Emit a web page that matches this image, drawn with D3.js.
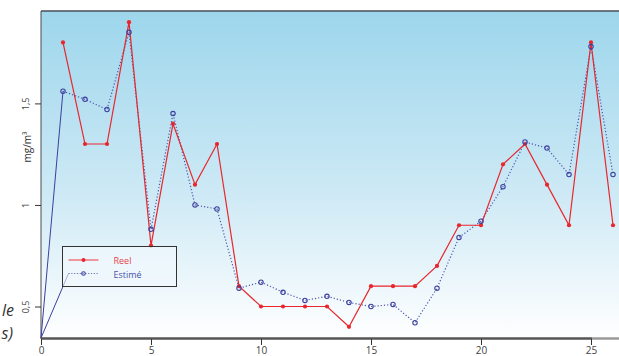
<!DOCTYPE html>
<html>
<head>
<meta charset="utf-8">
<script src="https://cdn.jsdelivr.net/npm/d3@7"></script>
<style>
  html, body { margin: 0; padding: 0; background: #ffffff; }
  svg { display: block; }
</style>
</head>
<body>
<svg id="chart" width="619" height="356"></svg>
<script>
// Measured concentrations per sample (mg/m³)
const samples = d3.range(1, 27);
const reel = [1.80, 1.30, 1.30, 1.90, 0.80, 1.40, 1.10, 1.30, 0.60, 0.50,
              0.50, 0.50, 0.50, 0.40, 0.60, 0.60, 0.60, 0.70, 0.90, 0.90,
              1.20, 1.30, 1.10, 0.90, 1.80, 0.90];
const estime = [1.56, 1.52, 1.47, 1.85, 0.88, 1.45, 1.00, 0.98, 0.59, 0.62,
                0.57, 0.53, 0.55, 0.52, 0.50, 0.51, 0.42, 0.59, 0.84, 0.92,
                1.09, 1.31, 1.28, 1.15, 1.78, 1.15];
const xTicks = [0, 5, 10, 15, 20, 25];
const yTicks = [0.5, 1, 1.5];
const yTickLabels = ["0,5", "1", "1,5"];
const seriesNames = ["Reel", "Estimé"];

const svg = d3.select("#chart");
const W = 619, H = 356;
const plotLeft = 41, plotTop = 11, plotBottom = 339;

const x = d3.scaleLinear().domain([0, 25]).range([41, 591]);
const y = d3.scaleLinear().domain([0.5, 1.5]).range([306.5, 103.4]);

const red = "#e8262c";
const blue = "#3b3f9e";

// Background gradient of the plotting area
const defs = svg.append("defs");
const grad = defs.append("linearGradient").attr("id", "bg")
  .attr("x1", 0).attr("y1", 0).attr("x2", 0).attr("y2", 1);
grad.append("stop").attr("offset", "0%").attr("stop-color", "#9dd6ec");
grad.append("stop").attr("offset", "55%").attr("stop-color", "#cde9f5");
grad.append("stop").attr("offset", "100%").attr("stop-color", "#ffffff");

svg.append("rect").attr("x", plotLeft).attr("y", plotTop)
  .attr("width", W - plotLeft).attr("height", plotBottom - plotTop)
  .attr("fill", "url(#bg)");

// Frame: top border, left axis, bottom axis
svg.append("line").attr("x1", plotLeft).attr("x2", W).attr("y1", plotTop).attr("y2", plotTop)
  .attr("stroke", "#4a4f55").attr("stroke-width", 1.5);
svg.append("line").attr("x1", plotLeft).attr("x2", plotLeft).attr("y1", plotTop).attr("y2", plotBottom)
  .attr("stroke", "#4a4a4a").attr("stroke-width", 1);
svg.append("line").attr("x1", plotLeft).attr("x2", 592).attr("y1", plotBottom - 0.5).attr("y2", plotBottom - 0.5)
  .attr("stroke", "#555555").attr("stroke-width", 2.5);
svg.append("line").attr("x1", 592).attr("x2", W).attr("y1", plotBottom - 0.5).attr("y2", plotBottom - 0.5)
  .attr("stroke", "#9a9a9a").attr("stroke-width", 2.5);

// Y axis
const yAxis = d3.axisLeft(y).tickValues(yTicks)
  .tickFormat((d, i) => yTickLabels[i]).tickSize(6).tickPadding(3);
const gy = svg.append("g").attr("transform", `translate(${plotLeft},0)`).call(yAxis);
gy.select(".domain").remove();
gy.selectAll(".tick line").attr("stroke", "#333");
gy.selectAll(".tick text")
  .attr("transform", "translate(-12,0) rotate(-90)")
  .attr("x", 0).attr("y", 0).attr("dy", "0")
  .attr("text-anchor", "middle")
  .style("font-family", "'Open Sans', sans-serif").style("font-size", "9px")
  .attr("fill", "#444");

// X axis
const xAxis = d3.axisBottom(x).tickValues(xTicks).tickSize(6).tickPadding(2);
const gx = svg.append("g").attr("transform", `translate(0,${plotBottom})`).call(xAxis);
gx.select(".domain").remove();
gx.selectAll(".tick line").attr("stroke", "#333");
gx.selectAll(".tick text")
  .style("font-family", "'Open Sans', sans-serif").style("font-size", "10px")
  .attr("fill", "#444");

// Y axis title
svg.append("text")
  .attr("transform", `translate(31,147) rotate(-90)`)
  .attr("text-anchor", "middle")
  .style("font-family", "'Open Sans', sans-serif").style("font-size", "10px")
  .attr("fill", "#333")
  .text("mg/m³");

// Fragment of neighbouring caption at the left edge
const cap = svg.append("g").style("font-family", "'Open Sans', sans-serif")
  .style("font-size", "16px").style("font-style", "italic").attr("fill", "#333")
  .attr("text-anchor", "end");
cap.append("text").attr("x", 14).attr("y", 316).text("le");
cap.append("text").attr("x", 13).attr("y", 339).text("s)");

// Legend geometry
const lg = { x: 62.5, y: 246.5, w: 114, h: 40 };
const estSampleStart = [lg.x + 6, lg.y + 27];

// Solid lead-in segments of the estimated series
svg.append("line")
  .attr("x1", x(0)).attr("y1", plotBottom - 1)
  .attr("x2", x(samples[0])).attr("y2", y(estime[0]))
  .attr("stroke", blue).attr("stroke-width", 1);
svg.append("line")
  .attr("x1", x(0)).attr("y1", plotBottom - 1)
  .attr("x2", estSampleStart[0]).attr("y2", estSampleStart[1])
  .attr("stroke", blue).attr("stroke-width", 1);

const line = d3.line().x(d => x(d[0])).y(d => y(d[1]));
const estPts = samples.map((s, i) => [s, estime[i]]);
const reelPts = samples.map((s, i) => [s, reel[i]]);

// Estimated series: dotted line with open circles
svg.append("path").datum(estPts).attr("d", line)
  .attr("fill", "none").attr("stroke", "#4d57ad").attr("stroke-width", 1.2)
  .attr("stroke-dasharray", "1.2,2");

// Measured series: solid red line with filled dots
svg.append("path").datum(reelPts).attr("d", line)
  .attr("fill", "none").attr("stroke", red).attr("stroke-width", 1.2);

svg.append("g").selectAll("circle").data(reelPts).join("circle")
  .attr("cx", d => x(d[0])).attr("cy", d => y(d[1])).attr("r", 2.1)
  .attr("fill", red);

svg.append("g").selectAll("circle").data(estPts).join("circle")
  .attr("cx", d => x(d[0])).attr("cy", d => y(d[1])).attr("r", 2.2)
  .attr("fill", "none").attr("stroke", blue).attr("stroke-width", 1.1);

// Legend
const leg = svg.append("g");
leg.append("rect").attr("x", lg.x).attr("y", lg.y).attr("width", lg.w).attr("height", lg.h)
  .attr("fill", "#f1f9fd").attr("fill-opacity", 0.6)
  .attr("stroke", "#333").attr("stroke-width", 1);
leg.append("line").attr("x1", lg.x + 6).attr("x2", lg.x + 36)
  .attr("y1", lg.y + 13.5).attr("y2", lg.y + 13.5)
  .attr("stroke", "#f0585c").attr("stroke-width", 1.2);
leg.append("circle").attr("cx", lg.x + 21).attr("cy", lg.y + 13.5).attr("r", 2)
  .attr("fill", red);
leg.append("line").attr("x1", estSampleStart[0]).attr("x2", lg.x + 36)
  .attr("y1", estSampleStart[1]).attr("y2", estSampleStart[1])
  .attr("stroke", "#6a74bd").attr("stroke-width", 1.1).attr("stroke-dasharray", "1.2,1.6");
leg.append("circle").attr("cx", lg.x + 21).attr("cy", estSampleStart[1]).attr("r", 1.8)
  .attr("fill", "none").attr("stroke", blue).attr("stroke-width", 1.1);
leg.selectAll("text.lab").data(seriesNames).join("text")
  .attr("class", "lab")
  .attr("x", lg.x + 51).attr("y", (d, i) => lg.y + 17 + i * 14)
  .style("font-family", "'Open Sans', sans-serif").style("font-size", "9px")
  .attr("fill", (d, i) => i === 0 ? "#e8454a" : "#4a52a8")
  .text(d => d);
</script>
</body>
</html>
